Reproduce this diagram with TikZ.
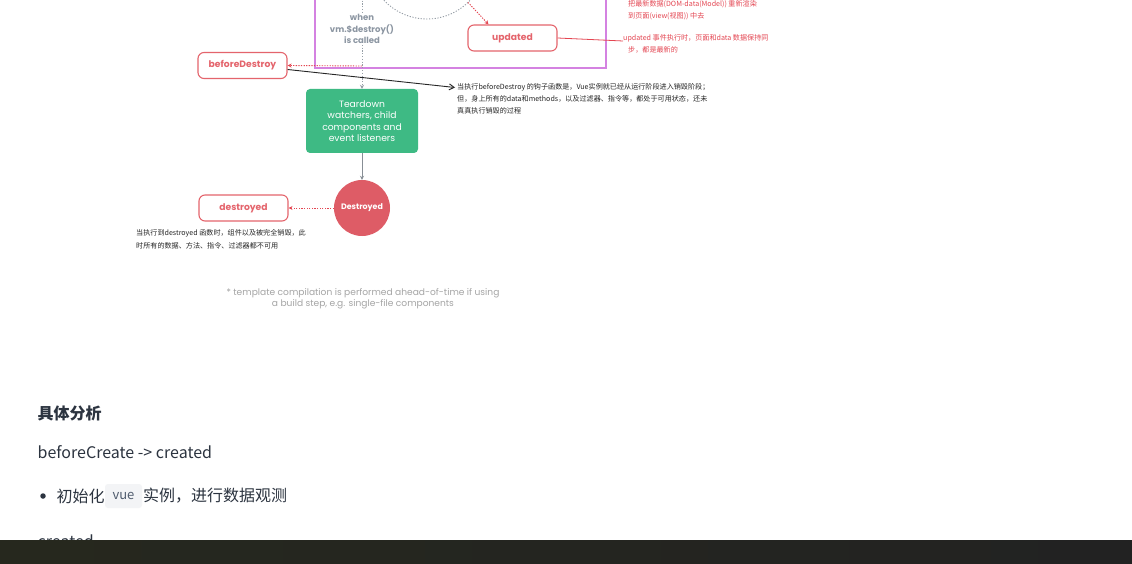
\documentclass[tikz,border=0pt]{standalone}
\usepackage{fontspec}
\setmainfont{Poppins}
\newfontfamily\cjk{Noto Sans CJK SC}
\usetikzlibrary{arrows.meta}
\definecolor{purpleline}{RGB}{212,130,225}
\definecolor{boxred}{RGB}{228,100,108}
\definecolor{annred}{RGB}{228,70,82}
\definecolor{tdgreen}{RGB}{62,186,132}
\definecolor{circred}{RGB}{222,92,102}
\definecolor{whengray}{RGB}{140,150,162}
\definecolor{dotgray}{RGB}{150,158,166}
\definecolor{mdtext}{RGB}{44,52,64}
\definecolor{codebg}{RGB}{243,244,246}
\definecolor{codetext}{RGB}{80,92,110}
\definecolor{footgray}{RGB}{165,165,165}
\definecolor{barl}{RGB}{38,40,30}
\definecolor{barr}{RGB}{34,34,34}
\tikzset{
  hookbox/.style={draw=boxred, line width=1.1pt, rounded corners=6pt, fill=white,
    text=boxred, font=\bfseries\fontsize{9.2}{10}\selectfont,
    minimum width=89pt, minimum height=26pt, inner sep=0pt},
  reddot/.style={draw=annred, line width=0.9pt, dash pattern=on 1.3pt off 1.3pt},
  graydot/.style={draw=dotgray, line width=0.9pt, dash pattern=on 1.2pt off 1.6pt},
  tip/.style={-{Stealth[length=4pt,width=4pt]}},
  annot/.style={font=\cjk\fontsize{7.1}{12}\selectfont, align=left, inner sep=0pt, anchor=north west},
  mdtxt/.style={text=mdtext, inner sep=0pt, anchor=west}
}
\begin{document}
\begin{tikzpicture}[x=1pt,y=-1pt]
\clip (0,0) rectangle (1132,564);
\fill[white] (0,0) rectangle (1132,564);

% purple frame and dashed cycle arc
\draw[purpleline, line width=1.2pt] (315,-20) rectangle (606,68);
\draw[graydot] (427,-40) circle (59pt);
\coordinate (arcpt) at (468,2.4);

% updated
\node[hookbox] (upd) at (512.5,38) {updated};
\draw[reddot, tip] (arcpt) -- ([xshift=-24pt]upd.north);
\node[annot, text=annred] (an1) at (628,0) {把最新数据(DOM-data(Model)) 重新渲染\\到页面(view(视图)) 中去};
\node[annot, text=annred] (an2) at (623,34) {updated 事件执行时，页面和data 数据保持同\\\hspace*{5pt}步，都是最新的};
\draw[annred, line width=0.8pt] (upd.east) -- ([yshift=-7pt]an2.north west);

% when vm.$destroy()
\node[text=whengray, font=\bfseries\fontsize{8.5}{11.5}\selectfont, align=center, inner sep=1pt] (when) at (362,29) {when\\vm.\$destroy()\\is called};
\draw[graydot] (362,-5) -- (when.north);

% beforeDestroy
\node[hookbox] (bd) at (242.5,65.5) {beforeDestroy};
\node[annot, text=black!85] (an3) at (457,83.5) {当执行beforeDestroy 的钩子函数是，Vue实例就已经从运行阶段进入销毁阶段；\\但，身上所有的data和methods，以及过滤器、指令等，都处于可用状态，还未\\真真执行销毁的过程};
\draw[black!85, line width=0.9pt, -{Straight Barb[length=5pt,width=6pt]}] ([yshift=-4pt]bd.east) -- ([xshift=-2pt,yshift=-4pt]an3.north west);

% teardown
\node[fill=tdgreen, rounded corners=4pt, minimum width=112pt, minimum height=64pt, inner sep=0pt,
  text=white, font=\fontsize{9.2}{11.5}\selectfont, align=center] (td) at (362,121)
  {Teardown\\watchers, child\\components and\\event listeners};
\coordinate (bdj) at (362,66);
\draw[graydot, tip] (when.south) -- (td.north);
\draw[reddot, tip] (bdj) -- (bd.east);

% Destroyed
\node[circle, fill=circred, minimum size=56pt, inner sep=0pt, text=white,
  font=\bfseries\fontsize{7.9}{9}\selectfont] (ds) at (362,208) {Destroyed};
\draw[dotgray!90!black, line width=1pt, tip] (td.south) -- (ds.north);
\node[hookbox] (dd) at (243.5,208) {destroyed};
\draw[reddot, tip] (ds.west) -- (dd.east);
\node[annot, text=black!85, font=\cjk\fontsize{7.1}{13}\selectfont] (an4) at (136,229) {当执行到destroyed 函数时，组件以及被完全销毁，此\\时所有的数据、方法、指令、过滤器都不可用};

% footnote
\node[text=footgray, font=\fontsize{9.1}{11}\selectfont, align=center, inner sep=0pt] (foot) at (363,298.5)
  {* template compilation is performed ahead-of-time if using\\a build step, e.g. single-file components};

% markdown text below
\node[mdtxt, font=\cjk\bfseries\fontsize{16}{18}\selectfont] (h) at (37.5,413) {具体分析};
\node[mdtxt, font=\cjk\fontsize{16}{18}\selectfont] (p1) at (37.5,452) {beforeCreate -> created};
\node[circle, fill=mdtext, inner sep=0pt, minimum size=5.5pt] (dot) at (43,496) {};
\node[mdtxt, font=\cjk\fontsize{16}{18}\selectfont] (li1) at (56.5,496) {初始化};
\node[fill=codebg, rounded corners=3pt, minimum width=37pt, minimum height=24pt, inner sep=0pt,
  text=codetext, font=\cjk\fontsize{13}{15}\selectfont] (code) at (123.5,496) {vue};
\node[mdtxt, font=\cjk\fontsize{16}{18}\selectfont] (li2) at (143,496) {实例，进行数据观测};
\node[mdtxt, font=\cjk\fontsize{16}{18}\selectfont] (p2) at (37.5,541) {created};

% dark bar
\fill[left color=barl, right color=barr] (0,540) rectangle (1132,564);
\end{tikzpicture}
\end{document}
